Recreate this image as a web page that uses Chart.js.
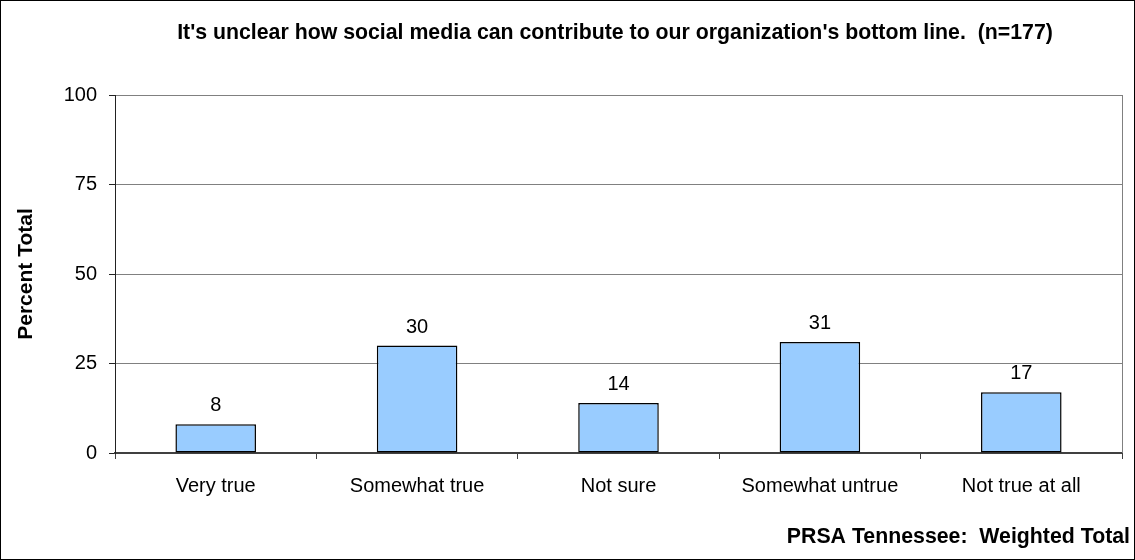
<!DOCTYPE html>
<html>
<head>
<meta charset="utf-8">
<script src="https://cdn.jsdelivr.net/npm/chart.js@4/dist/chart.umd.min.js"></script>
<style>
  html, body { margin: 0; padding: 0; background: #fff; }
  .frame {
    position: relative;
    width: 1135px;
    height: 560px;
    box-sizing: border-box;
    border: 1px solid #000;
    background: #fff;
  }
  #chartSurvey { display: block; }
</style>
</head>
<body>
<div class="frame">
  <canvas id="chartSurvey" width="1133" height="558"></canvas>
</div>
<script>
const title = "It's unclear how social media can contribute to our organization's bottom line.  (n=177)";
const footer = "PRSA Tennessee:  Weighted Total";
const axisTitle = "Percent Total";

const categories = ["Very true", "Somewhat true", "Not sure", "Somewhat untrue", "Not true at all"];
const percents = [8, 30, 14, 31, 17];
const yTicks = [0, 25, 50, 75, 100];

const FONT = "'Liberation Sans', Arial, sans-serif";

// value labels above each bar
const barLabels = {
  id: "barLabels",
  afterDatasetsDraw(chart) {
    const ctx = chart.ctx;
    const meta = chart.getDatasetMeta(0);
    ctx.save();
    ctx.fillStyle = "#000";
    ctx.font = "20px " + FONT;
    ctx.textAlign = "center";
    ctx.textBaseline = "alphabetic";
    meta.data.forEach((bar, i) => {
      ctx.fillText(String(chart.data.datasets[0].data[i]), bar.x, bar.y - 13);
    });
    ctx.restore();
  },
};

// gray right edge of the plot box
const plotBox = {
  id: "plotBox",
  beforeDatasetsDraw(chart) {
    const { ctx, chartArea } = chart;
    ctx.save();
    ctx.strokeStyle = "#808080";
    ctx.lineWidth = 1;
    ctx.beginPath();
    ctx.moveTo(Math.round(chartArea.right) + 0.5, chartArea.top);
    ctx.lineTo(Math.round(chartArea.right) + 0.5, chartArea.bottom);
    ctx.stroke();
    ctx.restore();
  },
};

// heading and source line
const captions = {
  id: "captions",
  afterDraw(chart) {
    const ctx = chart.ctx;
    ctx.save();
    ctx.fillStyle = "#000";
    ctx.font = "bold 21.3px " + FONT;
    ctx.textBaseline = "alphabetic";
    ctx.textAlign = "center";
    ctx.fillText(title, 614, 38);
    ctx.textAlign = "right";
    ctx.fillText(footer, 1129, 542);
    ctx.restore();
  },
};

new Chart(document.getElementById("chartSurvey"), {
  type: "bar",
  data: {
    labels: categories,
    datasets: [
      {
        data: percents,
        backgroundColor: "#99CCFF",
        borderColor: "#000",
        borderWidth: 1.5,
        borderSkipped: false,
        barPercentage: 0.4,
        categoryPercentage: 1,
      },
    ],
  },
  options: {
    responsive: false,
    animation: false,
    layout: { padding: { top: 94, right: 12, bottom: 0, left: 0 } },
    plugins: {
      legend: { display: false },
      tooltip: { enabled: false },
      title: { display: false },
    },
    scales: {
      x: {
        afterFit: (scale) => { scale.height = 106; },
        grid: {
          offset: true,
          drawOnChartArea: false,
          drawTicks: true,
          tickLength: 6,
          tickColor: "#404040",
        },
        border: { color: "#404040", width: 2 },
        ticks: {
          color: "#000",
          padding: 15,
          maxRotation: 0,
          font: { family: FONT, size: 20 },
        },
      },
      y: {
        min: 0,
        max: 100,
        afterFit: (scale) => { scale.width = 114; },
        afterBuildTicks: (scale) => {
          scale.ticks = yTicks.map((v) => ({ value: v }));
        },
        grid: {
          color: "#808080",
          lineWidth: 1,
          drawTicks: true,
          tickLength: 6,
          tickColor: "#222",
        },
        border: { color: "#222", width: 1 },
        ticks: {
          color: "#000",
          padding: 12,
          font: { family: FONT, size: 20 },
        },
        title: {
          display: true,
          text: axisTitle,
          color: "#000",
          padding: { top: 13, bottom: 0 },
          font: { family: FONT, size: 21, weight: "bold" },
        },
      },
    },
  },
  plugins: [plotBox, barLabels, captions],
});
</script>
</body>
</html>
